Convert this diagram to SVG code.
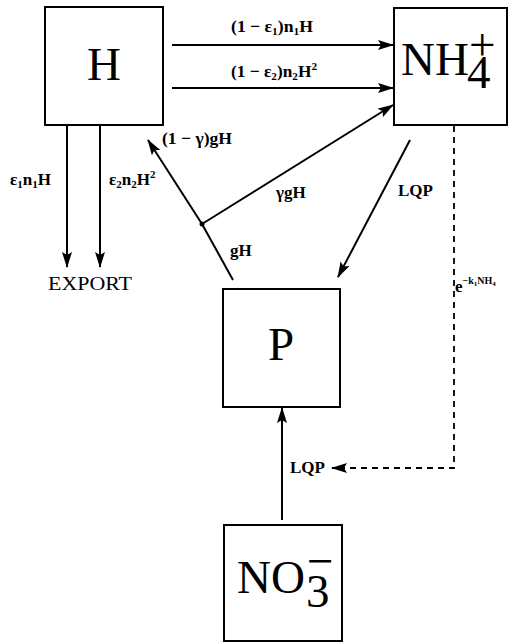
<svg xmlns="http://www.w3.org/2000/svg" width="510" height="643" viewBox="0 0 510 643">
<style>
.box{fill:#fff;stroke:#000;stroke-width:2}
.node{font-family:"Liberation Serif","DejaVu Serif",serif;font-size:47px;fill:#000}
.lbl{font-family:"Liberation Serif","DejaVu Serif",serif;font-size:17px;font-weight:bold;fill:#000}
.exp{font-family:"Liberation Serif","DejaVu Serif",serif;font-size:19px;fill:#000}
.ln{stroke:#000;stroke-width:2;fill:none}
.dash{stroke:#000;stroke-width:1.8;fill:none;stroke-dasharray:6,5}
</style>
<defs>
<marker id="ah" viewBox="0 0 16 10" refX="15" refY="5" markerWidth="16" markerHeight="10" markerUnits="userSpaceOnUse" orient="auto">
<path d="M0,0 L16,5 L0,10 L3,5 Z" fill="#000"/>
</marker>
</defs>
<rect width="510" height="643" fill="#fff"/>
<g id="H"><rect class="box" x="45" y="7" width="118" height="118"/><text class="node" x="104" y="80" text-anchor="middle">H</text></g>
<g id="NH4"><rect class="box" x="394" y="8" width="113" height="117"/><text class="node" x="401" y="75" font-size="44">NH</text><text class="node" x="467" y="88" font-size="33">4</text><text class="node" x="469" y="60" font-size="32">+</text></g>
<g id="P"><rect class="box" x="223" y="289" width="117" height="118"/><text class="node" x="281" y="360" text-anchor="middle">P</text></g>
<g id="NO3"><rect class="box" x="224" y="525" width="118" height="116"/><text class="node" x="237" y="593" textLength="68" lengthAdjust="spacingAndGlyphs">NO</text><text class="node" x="306" y="607" font-size="30">3</text><text class="node" x="307" y="577" font-size="30">−</text></g>
<g id="EXPORT"><text class="exp" x="48" y="290" textLength="84" lengthAdjust="spacingAndGlyphs">EXPORT</text></g>
<g id="connectors">
<line class="ln" x1="172" y1="45" x2="393" y2="45" marker-end="url(#ah)"/>
<line class="ln" x1="172" y1="88" x2="393" y2="88" marker-end="url(#ah)"/>
<line class="ln" x1="67" y1="125" x2="67" y2="267" marker-end="url(#ah)"/>
<line class="ln" x1="100" y1="125" x2="100" y2="267" marker-end="url(#ah)"/>
<line class="ln" x1="233" y1="280" x2="202" y2="224"/>
<line class="ln" x1="202" y1="224" x2="148" y2="140" marker-end="url(#ah)"/>
<line class="ln" x1="202" y1="224" x2="393" y2="105" marker-end="url(#ah)"/>
<circle cx="202" cy="224" r="2.5" fill="#000"/>
<line class="ln" x1="410" y1="140" x2="338" y2="277" marker-end="url(#ah)"/>
<line class="ln" x1="282" y1="520" x2="282" y2="408" marker-end="url(#ah)"/>
<polyline class="dash" points="454,126 454,468 345,468"/>
<line class="ln" x1="345" y1="468" x2="332" y2="468" marker-end="url(#ah)"/>
<text class="lbl" x="231" y="32" textLength="82" lengthAdjust="spacingAndGlyphs">(1 − ε<tspan font-size="11" dy="3">1</tspan><tspan dy="-3">)n</tspan><tspan font-size="11" dy="3">1</tspan><tspan dy="-3">H</tspan></text>
<text class="lbl" x="231" y="77" textLength="86" lengthAdjust="spacingAndGlyphs">(1 − ε<tspan font-size="11" dy="3">2</tspan><tspan dy="-3">)n</tspan><tspan font-size="11" dy="3">2</tspan><tspan dy="-3">H</tspan><tspan font-size="11" dy="-7">2</tspan></text>
<text class="lbl" x="10" y="185">ε<tspan font-size="11" dy="3">1</tspan><tspan dy="-3">n</tspan><tspan font-size="11" dy="3">1</tspan><tspan dy="-3">H</tspan></text>
<text class="lbl" x="109" y="185">ε<tspan font-size="11" dy="3">2</tspan><tspan dy="-3">n</tspan><tspan font-size="11" dy="3">2</tspan><tspan dy="-3">H</tspan><tspan font-size="11" dy="-7">2</tspan></text>
<text class="lbl" x="162" y="144" textLength="70" lengthAdjust="spacingAndGlyphs">(1 − γ)gH</text>
<text class="lbl" x="276" y="198">γgH</text>
<text class="lbl" x="230" y="256">gH</text>
<text class="lbl" x="398" y="196" font-size="19">LQP</text>
<text class="lbl" x="290" y="473">LQP</text>
<text class="lbl" x="455" y="292" font-size="16">e<tspan font-size="10" dy="-8">−k</tspan><tspan font-size="7" dy="2">1</tspan><tspan font-size="10" dy="-2">NH</tspan><tspan font-size="7" dy="2">4</tspan></text>
</g>
</svg>
